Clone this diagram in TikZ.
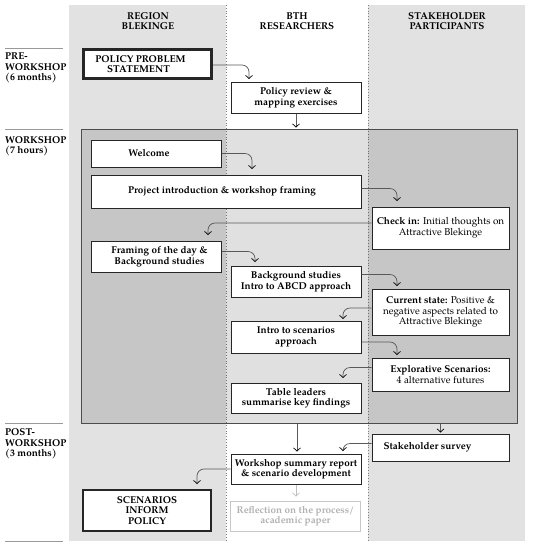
\documentclass[tikz,border=0pt]{standalone}
\usepackage{fontspec}
\setmainfont{TeX Gyre Pagella}
\usetikzlibrary{arrows.meta,calc}
\definecolor{colbg}{gray}{0.885}
\newcommand{\fsz}{\fontsize{9.9}{10.5}\selectfont}
\tikzset{
  bxn/.style={draw=black!85, line width=1pt, fill=white, align=center, inner sep=1pt, font=\fsz},
  bx/.style={bxn, font=\fsz\bfseries},
  thk/.style={bx, line width=2.9pt},
  hdr/.style={align=center, font=\fsz\bfseries},
  lbl/.style={align=left, anchor=west, font=\fsz\bfseries, inner sep=0pt},
  rule/.style={draw=black!40, line width=0.6pt},
  conn/.style={draw=black!65, line width=0.7pt, rounded corners=7pt, -{Straight Barb[length=3.2pt,width=7pt,color=black]}},
  sconn/.style={draw=black!65, line width=0.7pt, -{Straight Barb[length=3.2pt,width=7pt,color=black]}},
}
\begin{document}
\begin{tikzpicture}[x=1pt,y=-1pt]
\useasboundingbox (0,0) rectangle (535,550);
\fill[white] (0,0) rectangle (535,550);
% columns
\fill[colbg] (69,5) rectangle (226,541);
\fill[colbg] (368,5) rectangle (525,541);
\draw[black!50, dotted, line width=0.8pt] (226,5) -- (226,541);
\draw[black!50, dotted, line width=0.8pt] (368,5) -- (368,541);
% headers
\node[hdr] (h1) at (148,21) {REGION\\BLEKINGE};
\node[hdr] (h2) at (297,21) {BTH\\RESEARCHERS};
\node[hdr] (h3) at (447,21) {STAKEHOLDER\\PARTICIPANTS};
% left labels
\draw[rule] (5,48) -- (63,48);
\draw[rule] (5,129) -- (63,129);
\draw[rule] (5,423) -- (63,423);
\draw[rule] (5,541) -- (63,541);
\node[lbl] (lpre) at (5,68) {PRE-\\WORKSHOP\\(6 months)};
\node[lbl] (lws) at (5,146.5) {WORKSHOP\\(7 hours)};
\node[lbl] (lpost) at (5,444) {POST-\\WORKSHOP\\(3 months)};
% workshop box
\node[draw=black!70, line width=1pt, fill=black, fill opacity=0.12, draw opacity=1, minimum width=436pt, minimum height=294pt, inner sep=0pt] (ws) at (299,276) {};
% boxes
\node[thk, minimum width=128pt, minimum height=29pt] (pps) at (147.5,64) {POLICY PROBLEM\hspace*{14pt}\\STATEMENT\hspace*{18pt}};
\node[bx, minimum width=130pt, minimum height=31pt] (review) at (296,97.5) {Policy review \&\\mapping exercises};
\node[bx, minimum width=130pt, minimum height=27pt] (welcome) at (156,153.5) {Welcome\hspace*{14pt}};
\node[bx, minimum width=270pt, minimum height=33pt] (proj) at (226,191.5) {Project introduction \& workshop framing\hspace*{8pt}};
\node[bxn, minimum width=137pt, minimum height=42pt] (checkin) at (440.5,228) {\textbf{Check in:} Initial thoughts on\\Attractive Blekinge};
\node[bx, minimum width=130pt, minimum height=31pt] (framing) at (156,256.5) {\hspace*{7pt}Framing of the day \&\\\hspace*{7pt}Background studies};
\node[bx, minimum width=130pt, minimum height=31pt] (bg) at (296,281.5) {Background studies\\Intro to ABCD approach};
\node[bxn, minimum width=137pt, minimum height=46pt] (current) at (440.5,312) {\textbf{Current state:} Positive \&\\negative aspects related to\\Attractive Blekinge};
\node[bx, minimum width=130pt, minimum height=32pt] (intro) at (296,337) {Intro to scenarios\\approach};
\node[bxn, minimum width=137pt, minimum height=33pt] (explor) at (440.5,374.5) {\textbf{Explorative Scenarios:}\\4 alternative futures};
\node[bx, minimum width=130pt, minimum height=30pt] (table) at (296,398) {Table leaders\\summarise key findings};
\node[bx, minimum width=137pt, minimum height=27pt] (survey) at (440.5,447.5) {Stakeholder survey\hspace*{26pt}};
\node[bx, minimum width=130pt, minimum height=30pt] (summary) at (296,469) {Workshop summary report\\\& scenario development};
\node[thk, minimum width=128pt, minimum height=41pt] (sip) at (147,510.5) {SCENARIOS\\INFORM\\POLICY};
\node[bx, draw=black!22, text=black!30, minimum width=130pt, minimum height=30pt] (refl) at (295.5,516) {Reflection on the process/\\academic paper};
% arrow end points
\coordinate (e1) at (249,79);
\coordinate (e3) at (252,169);
\coordinate (e4) at (397,201);
\coordinate (e5) at (208,235);
\coordinate (e6) at (255,262);
\coordinate (e7) at (397,286);
\coordinate (e8) at (343,319);
\coordinate (e9) at (397,355);
\coordinate (e10) at (343,378);
\coordinate (e13) at (343,451);
\coordinate (e14) at (197,484);
% connectors
\draw[conn] ($(pps.east)+(0,1)$) -| (e1);
\draw[sconn] (review.south) -- ($(review.south |- ws.north)+(0,-1)$);
\draw[conn] (welcome.east) -| (e3);
\draw[conn] ($(proj.east)+(0,-3)$) -| (e4);
\draw[conn] ($(checkin.west)+(0,-5)$) -| (e5);
\draw[conn] ($(framing.east)+(0,-5)$) -| (e6);
\draw[conn] ($(bg.east)+(0,-7)$) -| (e7);
\draw[conn] ($(current.west)+(0,-4)$) -| (e8);
\draw[conn] ($(intro.east)+(0,5)$) -| (e9);
\draw[conn] ($(explor.west)+(0,-7)$) -| (e10);
\draw[sconn] ($(ws.south)+(-2,0)$) -- ($(summary.north)+(1,-2)$);
\draw[sconn] (ws.south -| survey.north) -- ($(survey.north)+(0,-1)$);
\draw[conn] ($(survey.west)+(0,-4)$) -| (e13);
\draw[conn] (summary.west) -| (e14);
\draw[draw=black!25, line width=0.7pt, -{Straight Barb[length=3.2pt,width=7pt,color=black!25]}] (summary.south) -- ($(refl.north)+(0.5,-4)$);
\end{tikzpicture}
\end{document}
